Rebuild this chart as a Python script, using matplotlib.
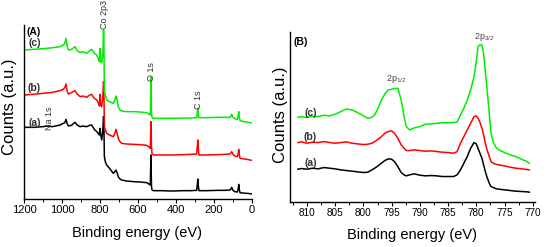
import matplotlib
matplotlib.use("Agg")
import matplotlib.pyplot as plt
from matplotlib.ticker import MultipleLocator

plt.rcParams['font.family'] = ['Liberation Sans', 'DejaVu Sans']
plt.rcParams['mathtext.default'] = 'regular'

# ---- panel A: survey spectra ----
energy_a = [1200, 1150, 1100, 1080, 1050, 1010, 993, 985, 979, 972,
            966, 950, 932, 920, 905, 890, 870, 855, 844, 830,
            817, 806, 803, 800, 797, 791, 787, 784, 782, 780,
            777, 772, 765, 750, 730, 722, 716, 710, 704, 695,
            686, 660, 624, 590, 554, 540, 535, 532, 529, 526,
            519, 480, 420, 360, 320, 291, 288, 285, 282, 279,
            240, 180, 140, 116, 110, 107, 104, 100, 90, 77,
            72, 70, 67, 63, 50, 28, 10, 0]
survey_c = [450, 452, 454, 455, 457, 460, 465, 470, 485, 460,
            450, 452, 460, 448, 442, 445, 440, 448, 452, 440,
            435, 420, 415, 455, 415, 412, 430, 450, 510, 505,
            330, 315, 300, 295, 290, 300, 312, 300, 280, 270,
            267, 265, 265, 264, 262, 257, 255, 368, 260, 248,
            245, 245, 245, 246, 246, 247, 260, 275, 255, 247,
            247, 248, 248, 248, 252, 257, 252, 248, 244, 242,
            255, 265, 250, 238, 236, 234, 232, 231]
survey_b = [315, 317, 320, 321, 323, 328, 332, 338, 348, 325,
            318, 322, 328, 318, 310, 312, 308, 315, 317, 305,
            300, 288, 282, 317, 285, 280, 300, 320, 355, 350,
            220, 210, 200, 195, 190, 200, 212, 200, 185, 175,
            170, 168, 167, 166, 164, 158, 155, 235, 160, 138,
            135, 135, 135, 136, 137, 138, 160, 180, 150, 135,
            135, 136, 137, 138, 142, 145, 142, 137, 132, 130,
            140, 152, 138, 125, 124, 122, 120, 119]
survey_a = [218, 218, 220, 222, 220, 225, 230, 232, 242, 228,
            222, 224, 233, 225, 220, 222, 220, 224, 225, 212,
            205, 198, 195, 215, 198, 180, 200, 220, 250, 245,
            130, 115, 105, 95, 80, 85, 90, 82, 70, 63,
            60, 57, 55, 54, 52, 47, 45, 135, 40, 30,
            28, 28, 27, 28, 28, 29, 45, 63, 40, 28,
            28, 29, 29, 30, 34, 38, 34, 29, 25, 24,
            35, 47, 32, 22, 21, 20, 19, 18]

# ---- panel B: Co 2p region ----
energy_b = [811.6, 811, 810, 809, 808, 807, 806, 805, 804, 803,
            802, 801, 800, 799.2, 798.5, 798, 797.4, 796.8, 796.2, 795.6,
            795, 794.5, 793.9, 793.3, 792.8, 792.4, 791.8, 791, 790, 789,
            788, 787, 786, 785, 784, 783.4, 782.8, 782.2, 781.6, 781,
            780.4, 780, 779.7, 779.4, 779, 778.7, 778.4, 778.1, 777.7, 777.4,
            777, 776.6, 776, 775, 774, 773, 772, 771, 770.6]
co2p_c = [268, 270, 267, 271, 270, 274, 272, 277, 285, 293,
          290, 282, 272, 265, 268, 275, 295, 320, 338, 350,
          352, 354, 355, 320, 270, 240, 230, 236, 240, 247,
          248, 250, 252, 251, 252, 254, 275, 295, 320, 350,
          390, 435, 480, 485, 485, 460, 405, 355, 280, 220,
          195, 180, 170, 162, 155, 150, 142, 135, 130]
co2p_b = [192, 194, 190, 193, 192, 195, 192, 190, 192, 194,
          190, 188, 186, 187, 190, 195, 202, 210, 220, 225,
          227, 220, 205, 185, 175, 168, 168, 170, 168, 166,
          167, 165, 163, 162, 160, 165, 190, 210, 230, 250,
          270, 272, 265, 255, 235, 215, 190, 170, 150, 135,
          130, 127, 125, 122, 118, 115, 113, 111, 110]
co2p_a = [112, 114, 112, 115, 113, 117, 115, 113, 110, 108,
          106, 104, 102, 103, 110, 115, 122, 130, 138, 143,
          142, 135, 120, 102, 95, 92, 95, 98, 94, 92,
          93, 92, 90, 90, 90, 95, 110, 130, 150, 175,
          192, 188, 175, 162, 145, 125, 105, 88, 70, 60,
          57, 54, 52, 50, 48, 46, 45, 44, 43]

colors = ['black', '#ff0000', '#00ee00']
labels = ['(a)', '(b)', '(c)']

fig = plt.figure(figsize=(5.5, 2.47), dpi=100)
axA = fig.add_axes([24/550, 48/247, 228/550, 174/247])
axB = fig.add_axes([290/550, 45.5/247, 245/550, 169.5/247])


def style(ax, fs):
    for s in ['top', 'right']:
        ax.spines[s].set_visible(False)
    for s in ['left', 'bottom']:
        ax.spines[s].set_linewidth(1.0)
    ax.set_yticks([])
    ax.tick_params(axis='x', which='major', direction='out', length=3, width=0.8,
                   labelsize=fs, pad=1.5)
    ax.tick_params(axis='x', which='minor', direction='out', length=1.8, width=0.7)
    ax.set_xlabel('Binding energy (eV)', fontsize=10.5)
    ax.set_ylabel('Counts (a.u.)', fontsize=12)


for y, c in zip([survey_a, survey_b, survey_c], colors):
    axA.plot(energy_a, y, color=c, lw=1.1)
axA.set_xlim(1200, 0)
axA.set_ylim(3, 525)
axA.xaxis.set_major_locator(MultipleLocator(200))
axA.xaxis.set_minor_locator(MultipleLocator(100))
style(axA, 8)
axA.xaxis.set_label_coords(0.496, -0.155)
axA.yaxis.set_label_coords(-0.03, 0.53)

axA.text(1151, 503, '(A)', fontsize=7.5, fontweight='bold', ha='center', va='center')
for lab, yy in zip(labels, [230, 335, 470]):
    axA.text(1146, yy, lab, fontsize=7.5, fontweight='bold', color='#333333',
             ha='center', va='center')
peaks_a = [('Na 1s', 1067, 245), ('Co 2p3', 776, 556), ('O 1s', 531, 385), ('C 1s', 279, 300)]
for lab, xx, yy in peaks_a:
    axA.text(xx, yy, lab, fontsize=6.5, color='#333333', rotation=90,
             ha='center', va='center', clip_on=False)

for y, c in zip([co2p_a, co2p_b, co2p_c], colors):
    axB.plot(energy_b, y, color=c, lw=1.1)
axB.set_xlim(813, 769.6)
axB.set_ylim(15, 524)
axB.xaxis.set_major_locator(MultipleLocator(5))
axB.xaxis.set_minor_locator(MultipleLocator(2.5))
style(axB, 7.2)
axB.xaxis.set_label_coords(0.498, -0.156)
axB.yaxis.set_label_coords(-0.01, 0.51)

axB.text(812.4, 495, '(B)', fontsize=7.5, fontweight='bold', ha='left', va='center')
for lab, yy in zip(labels, [130, 210, 282]):
    axB.text(809.4, yy, lab, fontsize=7.5, fontweight='bold', color='#333333',
             ha='center', va='center')
axB.text(794.2, 382, '2p$_{1/2}$', fontsize=6.5, color='#444444', ha='center', va='center')
axB.text(778.6, 510, '2p$_{3/2}$', fontsize=6.5, color='#444444', ha='center', va='center',
         clip_on=False)

fig.savefig('out.png', dpi=100)
